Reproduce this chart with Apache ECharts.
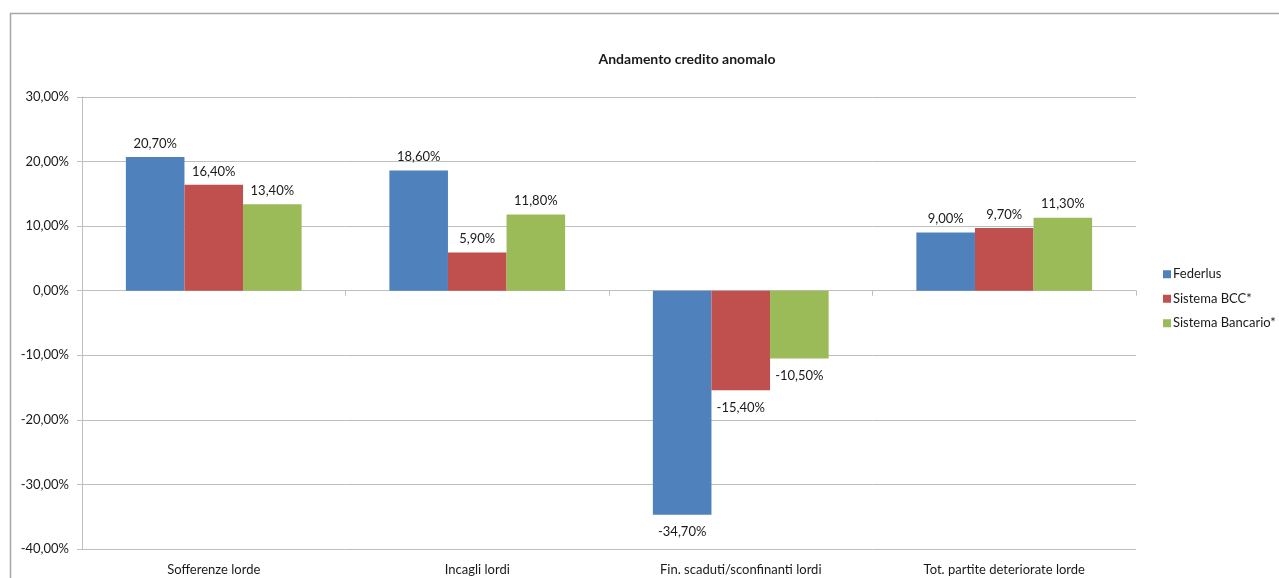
<!DOCTYPE html>
<html>
<head>
<meta charset="utf-8">
<script src="https://cdn.jsdelivr.net/npm/echarts@6/dist/echarts.min.js"></script>
<style>
  html, body { margin: 0; padding: 0; background: #fff; }
  #chart { width: 1279px; height: 578px; }
</style>
</head>
<body>
<div id="chart"></div>
<script>
// Categorie e valori (variazioni percentuali)
const categories = ['Sofferenze lorde', 'Incagli lordi', 'Fin. scaduti/sconfinanti lordi', 'Tot. partite deteriorate lorde'];
const federlus = [20.7, 18.6, -34.7, 9.0];
const sistemaBCC = [16.4, 5.9, -15.4, 9.7];
const sistemaBancario = [13.4, 11.8, -10.5, 11.3];
const seriesNames = ['Federlus', 'Sistema BCC*', 'Sistema Bancario*'];
const colors = ['#4F81BD', '#C0504D', '#9BBB59'];

const FONT = 'Lato';
const TEXT = '#1a1a1a';
const fmt = v => v.toFixed(2).replace('.', ',') + '%';

function toData(values) {
  return values.map(v => ({
    value: v,
    label: { position: v < 0 ? 'bottom' : 'top', distance: v < 0 ? 11 : 7 }
  }));
}

const chart = echarts.init(document.getElementById('chart'), null, { renderer: 'canvas' });

const seriesData = [federlus, sistemaBCC, sistemaBancario];

chart.setOption({
  animation: false,
  backgroundColor: '#fff',
  textStyle: { fontFamily: FONT },
  title: {
    text: 'Andamento credito anomalo',
    left: 682,
    textAlign: 'center',
    top: 47,
    textStyle: { fontFamily: FONT, fontSize: 14, fontWeight: 'bold', color: TEXT }
  },
  legend: {
    orient: 'vertical',
    left: 1158,
    top: 262,
    itemWidth: 8,
    itemHeight: 8,
    itemGap: 10,
    icon: 'rect',
    data: seriesNames,
    textStyle: { fontFamily: FONT, fontSize: 13, lineHeight: 14.5, color: TEXT, padding: [0, 0, 0, -3] }
  },
  grid: { left: 82, right: 143, top: 97, bottom: 29, containLabel: false },
  xAxis: [
    {
      type: 'category',
      data: categories,
      position: 'bottom',
      axisLine: { show: false, onZero: false },
      axisTick: { show: false },
      axisLabel: { fontFamily: FONT, fontSize: 13, color: TEXT, margin: 14 }
    },
    {
      type: 'category',
      data: categories,
      position: 'bottom',
      axisLine: { show: true, onZero: true, lineStyle: { color: '#BEBEBE', width: 1 } },
      axisTick: { show: true, length: 5, inside: false, lineStyle: { color: '#BEBEBE' } },
      axisLabel: { show: false }
    }
  ],
  yAxis: {
    type: 'value',
    min: -40,
    max: 30,
    interval: 10,
    axisLine: { show: true, lineStyle: { color: '#BEBEBE' } },
    axisTick: { show: true, length: 5, lineStyle: { color: '#BEBEBE' } },
    splitLine: { show: true, lineStyle: { color: '#BEBEBE', width: 1 } },
    axisLabel: { formatter: v => fmt(v), fontFamily: FONT, fontSize: 13, color: TEXT, margin: 13 }
  },
  series: seriesData.map((vals, i) => ({
    name: seriesNames[i],
    type: 'bar',
    xAxisIndex: 0,
    data: toData(vals),
    barGap: '0%',
    barCategoryGap: '33.3%',
    itemStyle: { color: colors[i] },
    label: {
      show: true,
      formatter: p => fmt(p.value),
      fontFamily: FONT,
      fontSize: 13,
      color: TEXT
    }
  })),
  graphic: [
    {
      type: 'rect',
      silent: true,
      z: -1,
      shape: { x: 10.5, y: 13.5, width: 1400, height: 700 },
      style: { fill: 'none', stroke: '#A6A6A6', lineWidth: 1.5 }
    }
  ]
});
</script>
</body>
</html>
